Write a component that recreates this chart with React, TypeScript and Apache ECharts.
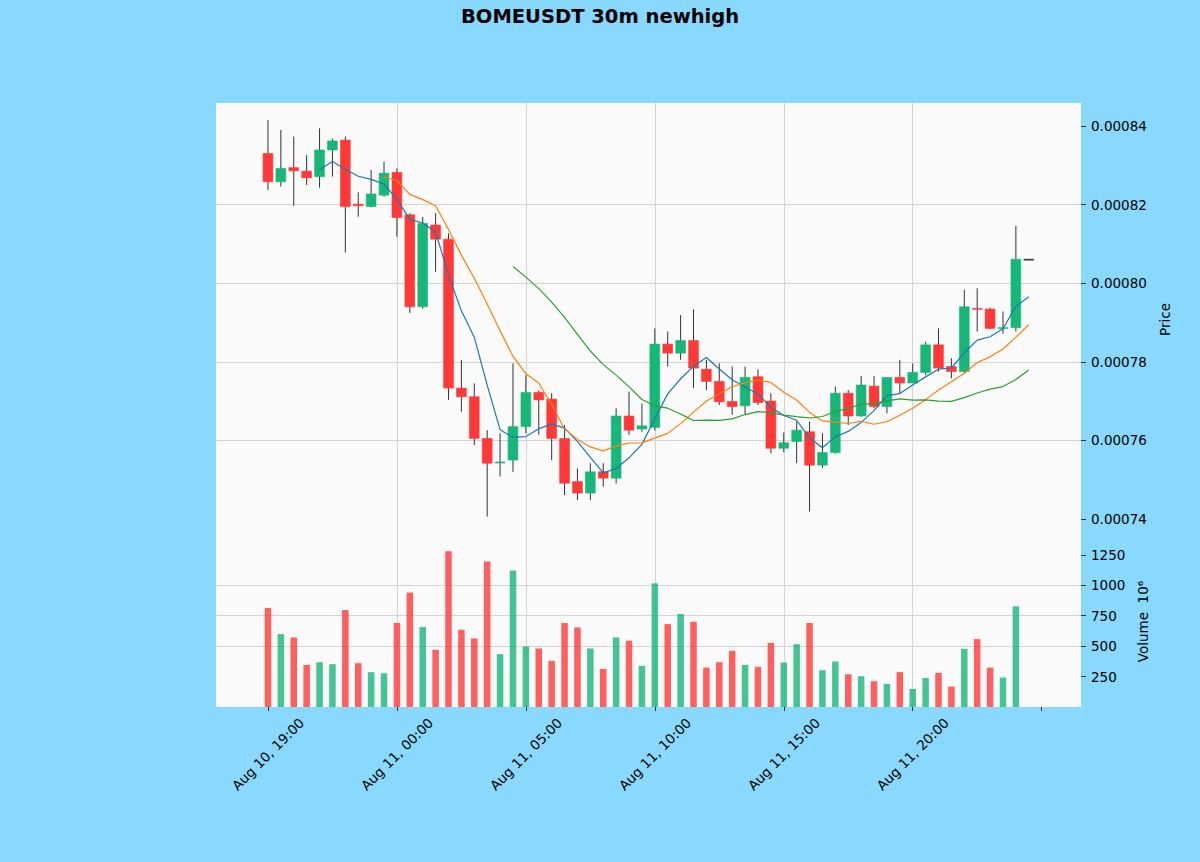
import React, { useEffect, useRef } from "react";
import * as echarts from "echarts";

const TITLE = "BOMEUSDT 30m newhigh";
const PRICE_UNIT = 1e-6;

const xTickValues = [0, 10, 20, 30, 40, 50, 60];
const xTickLabels = ["Aug 10, 19:00", "Aug 11, 00:00", "Aug 11, 05:00", "Aug 11, 10:00", "Aug 11, 15:00", "Aug 11, 20:00", ""];
const priceTicks = [0.00074, 0.00076, 0.00078, 0.0008, 0.00082, 0.00084];
const volumeTicks = [250, 500, 750, 1000, 1250];

// prices in units of 1e-6
const opens = [
  833.0, 825.8, 829.4, 828.5, 827.1, 833.9, 836.4, 820.1, 819.5, 822.4,
  828.2, 817.4, 794.0, 814.8, 811.2, 773.3, 771.1, 760.5, 754.3, 755.0,
  763.5, 772.2, 770.5, 760.5, 749.5, 746.6, 752.0, 750.4, 766.2, 762.9,
  763.3, 784.5, 782.2, 785.4, 778.1, 775.0, 769.9, 768.8, 776.2, 770.0,
  758.0, 759.7, 762.2, 753.7, 756.9, 772.0, 766.2, 773.8, 768.6, 776.0,
  774.6, 777.3, 784.3, 778.8, 777.5, 793.6, 793.4, 788.5, 788.7, 806.1,
];
const highs = [
  841.5, 839.0, 837.3, 832.6, 839.4, 836.8, 837.3, 823.1, 828.8, 830.9,
  829.2, 817.8, 816.9, 817.8, 812.7, 780.5, 774.5, 762.6, 761.8, 779.6,
  776.6, 772.7, 772.0, 763.9, 752.9, 754.2, 754.2, 768.2, 772.4, 769.4,
  788.5, 787.7, 791.9, 793.4, 780.5, 779.6, 778.8, 778.8, 778.1, 772.0,
  762.0, 764.8, 764.8, 761.8, 773.7, 772.8, 776.4, 776.4, 776.0, 780.5,
  779.6, 785.1, 788.5, 780.9, 798.3, 798.7, 793.8, 792.8, 814.6, 806.1,
];
const lows = [
  823.7, 824.6, 819.7, 825.0, 824.3, 827.1, 807.8, 816.9, 819.3, 822.0,
  811.8, 792.4, 793.5, 802.9, 770.3, 767.3, 758.8, 740.6, 750.8, 752.0,
  761.8, 761.4, 755.0, 746.1, 744.8, 744.8, 748.2, 749.0, 761.4, 762.2,
  762.5, 778.8, 780.5, 773.3, 772.8, 769.0, 766.5, 766.5, 769.0, 756.7,
  757.0, 754.2, 741.9, 753.0, 756.6, 763.9, 766.0, 768.2, 766.9, 772.0,
  774.6, 776.6, 777.5, 775.8, 777.0, 787.7, 788.3, 787.2, 787.7, 806.1,
];
const closes = [
  825.8, 829.2, 828.6, 826.8, 833.9, 836.2, 819.5, 819.7, 822.7, 828.0,
  816.7, 794.0, 815.2, 811.2, 773.3, 771.1, 760.5, 754.2, 754.5, 763.5,
  772.2, 770.3, 760.5, 749.1, 746.6, 752.0, 750.4, 766.2, 762.6, 763.7,
  784.5, 782.2, 785.4, 778.4, 775.0, 769.8, 768.6, 776.0, 769.6, 758.0,
  759.4, 762.6, 753.7, 756.9, 772.0, 766.2, 774.1, 768.6, 776.0, 774.6,
  777.3, 784.3, 778.4, 777.5, 794.0, 793.4, 788.5, 788.7, 806.1, 806.1,
];
// volume in units of 1e6
const volumes = [
  813, 599, 571, 346, 368, 352, 797, 360, 286, 277,
  690, 940, 657, 470, 1280, 635, 563, 1195, 434, 1121,
  497, 481, 379, 690, 654, 481, 313, 571, 544, 338,
  1016, 681, 764, 700, 324, 368, 462, 346, 330, 527,
  365, 516, 690, 302, 374, 269, 253, 212, 190, 286,
  148, 239, 280, 168, 478, 558, 324, 242, 827, 0,
];

const maPeriods = [5, 10, 20];
const maColors = ["#1f77b4", "#ff7f0e", "#2ca02c"];

const UP = "#16b778";
const DOWN = "#ff3838";
const WICK = "#333333";
const GRIDLINE = "#d4d4d4";
const FONT = "DejaVu Sans";

function movingAverage(values: number[], period: number) {
  const out: number[][] = [];
  for (let i = period - 1; i < values.length; i++) {
    let s = 0;
    for (let j = i - period + 1; j <= i; j++) s += values[j];
    out.push([i, (s / period) * PRICE_UNIT]);
  }
  return out;
}

export default function App() {
  const ref = useRef<HTMLDivElement>(null);
  useEffect(() => {
    if (!ref.current) return;
    const chart = echarts.init(ref.current, null, { renderer: "svg" });

    const candleData = opens.map((o, i) => [
      i,
      o * PRICE_UNIT,
      closes[i] * PRICE_UNIT,
      lows[i] * PRICE_UNIT,
      highs[i] * PRICE_UNIT,
    ]);
    const volData = volumes.map((v, i) => ({
      value: [i, v],
      itemStyle: { color: closes[i] >= opens[i] ? UP : DOWN, opacity: 0.8 },
    }));

    const xMin = -4.03;
    const xMax = 63.05;
    const labelStyle = { color: "#000", fontSize: 13.5, fontFamily: FONT };

    const makeX = (g: number) => ({
      type: "value",
      gridIndex: g,
      min: xMin,
      max: xMax,
      axisLine: { show: false, onZero: false },
      axisTick: {
        show: g === 1,
        length: 4,
        lineStyle: { color: "#333" },
        customValues: xTickValues,
      },
      axisLabel:
        g === 1
          ? {
              show: true,
              customValues: xTickValues,
              rotate: 45,
              align: "center",
              verticalAlign: "middle",
              margin: 47,
              ...labelStyle,
              formatter: (v: number) => {
                const k = xTickValues.indexOf(Math.round(v));
                return k >= 0 ? xTickLabels[k] : "";
              },
            }
          : { show: false },
      splitLine: {
        show: true,
        showMinLine: false,
        showMaxLine: false,
        lineStyle: { color: GRIDLINE, width: 1 },
      },
    });

    const option: any = {
      animation: false,
      backgroundColor: "#89d8fd",
      title: {
        text: TITLE,
        left: "center",
        top: 1,
        textStyle: { fontSize: 19.5, fontWeight: "bold", fontFamily: FONT, color: "#000" },
      },
      grid: [
        { left: 216, top: 103, width: 865, height: 433, show: true, backgroundColor: "#fafafa", borderWidth: 0 },
        { left: 216, top: 536, width: 865, height: 171, show: true, backgroundColor: "#fafafa", borderWidth: 0 },
      ],
      xAxis: [makeX(0), makeX(1)],
      yAxis: [
        {
          type: "value",
          gridIndex: 0,
          position: "right",
          min: 735.67 * PRICE_UNIT,
          max: 845.85 * PRICE_UNIT,
          splitNumber: 5,
          name: "Price",
          nameLocation: "middle",
          nameRotate: 90,
          nameGap: 64,
          nameTextStyle: { color: "#000", fontSize: 13.5, fontFamily: FONT },
          axisLine: { show: false, onZero: false },
          axisTick: { show: true, length: 5, lineStyle: { color: "#333" }, customValues: priceTicks },
          axisLabel: {
            customValues: priceTicks,
            margin: 10,
            ...labelStyle,
            formatter: (v: number) => v.toFixed(5),
          },
          splitLine: {
            show: true,
            showMinLine: false,
            showMaxLine: false,
            lineStyle: { color: GRIDLINE, width: 1 },
          },
        },
        {
          type: "value",
          gridIndex: 1,
          position: "right",
          min: 0,
          max: 1405,
          interval: 250,
          name: "Volume  10⁶",
          nameLocation: "middle",
          nameRotate: 90,
          nameGap: 44,
          nameTextStyle: { color: "#000", fontSize: 13.5, fontFamily: FONT },
          axisLine: { show: false, onZero: false },
          axisTick: { show: true, length: 5, lineStyle: { color: "#333" }, customValues: volumeTicks },
          axisLabel: {
            customValues: volumeTicks,
            margin: 10,
            ...labelStyle,
            formatter: (v: number) => String(v),
          },
          splitLine: {
            show: true,
            showMinLine: false,
            showMaxLine: false,
            lineStyle: { color: GRIDLINE, width: 1 },
          },
        },
      ],
      series: [
        {
          type: "custom",
          name: "candles",
          xAxisIndex: 0,
          yAxisIndex: 0,
          data: candleData,
          encode: { x: 0, y: [1, 2, 3, 4] },
          z: 2,
          renderItem: (params: any, api: any) => {
            const i = api.value(0);
            const o = api.value(1);
            const c = api.value(2);
            const l = api.value(3);
            const h = api.value(4);
            const pO = api.coord([i, o]);
            const pC = api.coord([i, c]);
            const pL = api.coord([i, l]);
            const pH = api.coord([i, h]);
            const w = api.size([1, 0])[0] * 0.76;
            const flat = o === c && h === l;
            const color = flat ? WICK : c >= o ? UP : DOWN;
            const top = Math.min(pO[1], pC[1]);
            const ht = Math.max(Math.abs(pO[1] - pC[1]), 1);
            return {
              type: "group",
              children: [
                {
                  type: "line",
                  shape: { x1: pH[0], y1: pH[1], x2: pL[0], y2: pL[1] },
                  style: { stroke: WICK, lineWidth: 1 },
                },
                {
                  type: "rect",
                  shape: { x: pO[0] - w / 2, y: top, width: w, height: ht },
                  style: { fill: color, stroke: color, lineWidth: 0.6 },
                },
              ],
            };
          },
        },
        ...maPeriods.map((p, k) => ({
          type: "line",
          name: `MA${p}`,
          xAxisIndex: 0,
          yAxisIndex: 0,
          data: movingAverage(closes, p),
          showSymbol: false,
          symbol: "none",
          z: 3,
          lineStyle: { color: maColors[k], width: 1.2 },
        })),
        {
          type: "bar",
          name: "volume",
          xAxisIndex: 1,
          yAxisIndex: 1,
          data: volData,
          barWidth: 6.5,
        },
      ],
    };

    chart.setOption(option);
    return () => chart.dispose();
  }, []);

  return (
    <div
      ref={ref}
      style={{ position: "absolute", left: 0, top: 0, width: 1200, height: 862 }}
    />
  );
}
